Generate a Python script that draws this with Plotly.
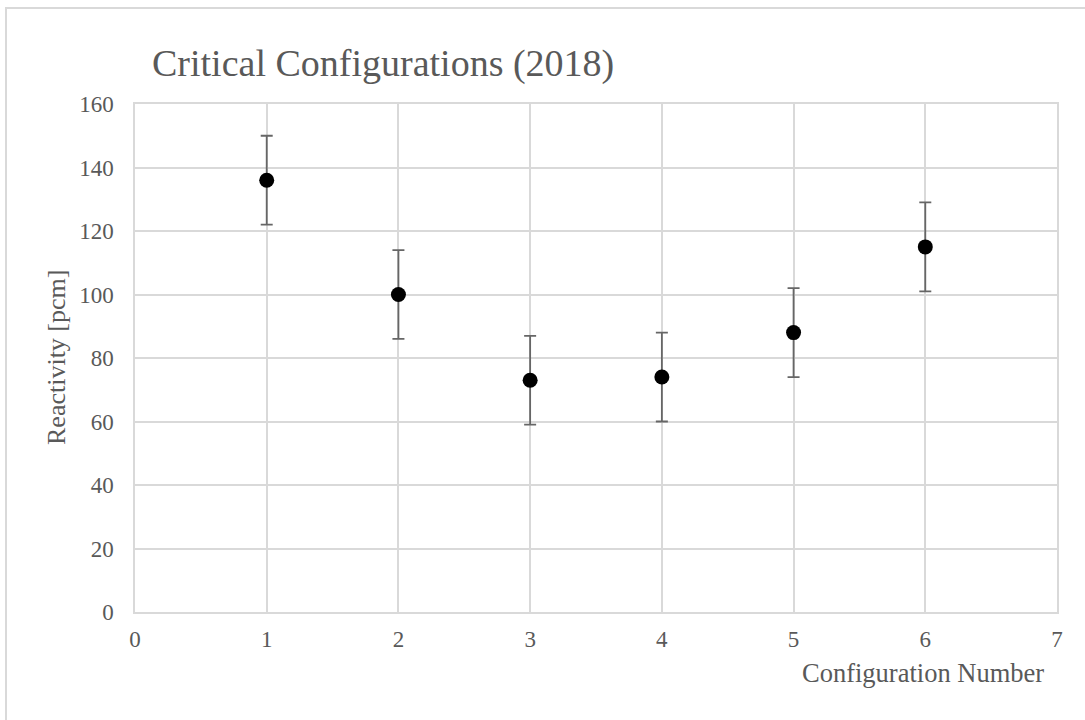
import plotly.graph_objects as go

# Reactivity measured for each critical configuration (2018)
config_number = [1, 2, 3, 4, 5, 6]
reactivity_pcm = [136, 100, 73, 74, 88, 115]
uncertainty_pcm = [14, 14, 14, 14, 14, 14]

x_ticks = [0, 1, 2, 3, 4, 5, 6, 7]
y_ticks = [0, 20, 40, 60, 80, 100, 120, 140, 160]

W, H = 1085, 720
ML, MR, MT, MB = 135, 28, 104, 108
PW, PH = W - ML - MR, H - MT - MB

def px_x(px):
    return (px - ML) / PW

def px_y(py):
    return (H - MB - py) / PH

FONT = "Liberation Serif, Times New Roman, serif"
TEXT = "#595959"
GRID = "#d9d9d9"

fig = go.Figure(
    go.Scatter(
        x=config_number,
        y=reactivity_pcm,
        mode="markers",
        marker=dict(color="black", size=15),
        error_y=dict(
            type="data",
            array=uncertainty_pcm,
            visible=True,
            color="#666666",
            thickness=1.8,
            width=6,
        ),
        showlegend=False,
    )
)

axis_common = dict(
    showgrid=True,
    gridcolor=GRID,
    gridwidth=1.5,
    zeroline=False,
    showline=True,
    linecolor=GRID,
    linewidth=1.5,
    mirror=True,
    ticks="",
    tickfont=dict(family=FONT, size=23, color=TEXT),
)

fig.update_xaxes(range=[0, 7], tickvals=x_ticks, ticklabelstandoff=6, **axis_common)
fig.update_yaxes(range=[0, 160], tickvals=y_ticks, ticklabelstandoff=15, **axis_common)

fig.update_layout(
    width=W,
    height=H,
    margin=dict(l=ML, r=MR, t=MT, b=MB, autoexpand=False),
    paper_bgcolor="white",
    plot_bgcolor="white",
    annotations=[
        dict(
            text="Critical Configurations (2018)",
            xref="paper", yref="paper",
            x=px_x(150), y=px_y(64),
            xanchor="left", yanchor="middle",
            showarrow=False,
            font=dict(family=FONT, size=38, color=TEXT),
        ),
        dict(
            text="Configuration Number",
            xref="paper", yref="paper",
            x=px_x(923), y=px_y(673),
            xanchor="center", yanchor="middle",
            showarrow=False,
            font=dict(family=FONT, size=26.5, color=TEXT),
        ),
        dict(
            text="Reactivity [pcm]",
            xref="paper", yref="paper",
            x=px_x(56), y=0.5,
            xanchor="center", yanchor="middle",
            textangle=-90,
            showarrow=False,
            font=dict(family=FONT, size=26, color=TEXT),
        ),
    ],
    shapes=[
        dict(
            type="rect",
            xref="paper", yref="paper",
            x0=px_x(6), x1=px_x(1095),
            y0=px_y(730), y1=px_y(8),
            line=dict(color=GRID, width=2),
            fillcolor="rgba(0,0,0,0)",
            layer="below",
        )
    ],
)

fig.write_html("out.html")
